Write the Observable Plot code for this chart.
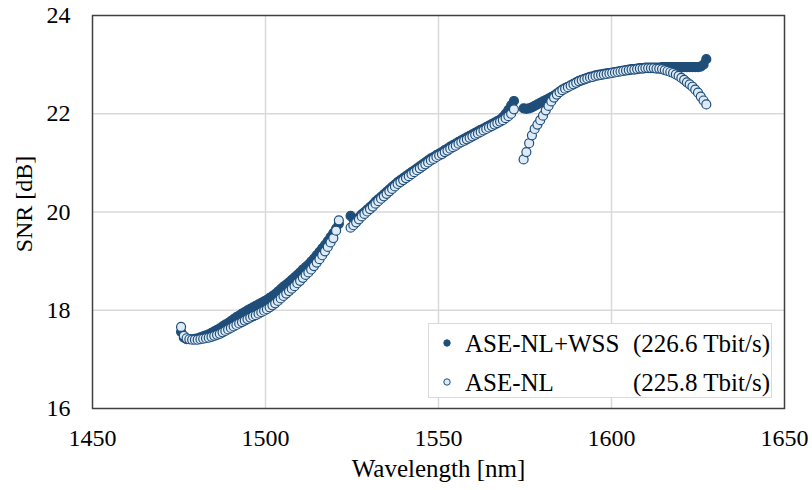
<!DOCTYPE html>
<html><head><meta charset="utf-8">
<script src="https://cdn.jsdelivr.net/npm/d3@7"></script>
<script src="https://cdn.jsdelivr.net/npm/@observablehq/plot@0.6"></script>
<style>
body{margin:0;background:#fff;}
#wrap{position:relative;width:812px;height:490px;font-family:"Liberation Serif","Times New Roman",serif;color:#000;}
#legend{position:absolute;left:428px;top:323px;width:344px;height:75px;border:1.5px solid #d9d9d9;background:#fff;box-sizing:border-box;}
.lt{position:absolute;font-size:25px;line-height:25px;white-space:nowrap;}
</style></head><body><div id="wrap"></div>
<script>
// ---- data ----
const sWavelength = [1475.6,1476.4,1477.2,1478.0,1478.8,1479.6,1480.4,1481.2,1482.0,1482.8,
1483.6,1484.4,1485.2,1486.0,1486.8,1487.6,1488.4,1489.2,1490.0,1490.8,
1491.6,1492.4,1493.2,1494.0,1494.8,1495.6,1496.4,1497.2,1498.0,1498.8,
1499.6,1500.4,1501.2,1502.0,1502.8,1503.6,1504.4,1505.2,1506.0,1506.8,
1507.6,1508.4,1509.2,1510.0,1510.8,1511.6,1512.4,1513.2,1514.0,1514.8,
1515.6,1516.4,1517.2,1518.0,1518.8,1519.6,1520.4,1521.2];
const sAseNl = [17.66,17.48,17.43,17.41,17.40,17.40,17.40,17.41,17.42,17.43,
17.44,17.46,17.48,17.50,17.52,17.55,17.58,17.61,17.64,17.67,
17.70,17.73,17.76,17.79,17.82,17.85,17.88,17.90,17.93,17.96,
17.99,18.02,18.06,18.10,18.14,18.19,18.24,18.29,18.34,18.39,
18.44,18.49,18.55,18.60,18.66,18.72,18.77,18.83,18.90,18.97,
19.04,19.12,19.20,19.29,19.38,19.47,19.62,19.83];
const sAseNlWss = [17.56,17.44,17.41,17.41,17.41,17.42,17.43,17.45,17.47,17.49,
17.51,17.54,17.57,17.60,17.63,17.67,17.71,17.74,17.78,17.82,
17.86,17.89,17.93,17.96,18.00,18.03,18.06,18.09,18.12,18.15,
18.18,18.21,18.25,18.29,18.33,18.38,18.43,18.48,18.52,18.57,
18.62,18.67,18.72,18.77,18.83,18.88,18.93,18.99,19.05,19.12,
19.19,19.26,19.33,19.41,19.49,19.57,19.66,19.76];

const cWavelength = [1524.6,1525.4,1526.2,1527.0,1527.8,1528.6,1529.4,1530.2,1531.0,1531.8,
1532.6,1533.4,1534.2,1535.0,1535.8,1536.6,1537.4,1538.2,1539.0,1539.8,
1540.6,1541.4,1542.2,1543.0,1543.8,1544.6,1545.4,1546.2,1547.0,1547.8,
1548.6,1549.4,1550.2,1551.0,1551.8,1552.6,1553.4,1554.2,1555.0,1555.8,
1556.6,1557.4,1558.2,1559.0,1559.8,1560.6,1561.4,1562.2,1563.0,1563.8,
1564.6,1565.4,1566.2,1567.0,1567.8,1568.6,1569.4,1570.2,1571.0,1571.8];
const cAseNl = [19.68,19.73,19.79,19.85,19.91,19.96,20.01,20.06,20.11,20.17,
20.22,20.27,20.32,20.37,20.42,20.47,20.52,20.57,20.61,20.65,
20.69,20.73,20.77,20.81,20.85,20.89,20.93,20.97,21.01,21.05,
21.08,21.12,21.15,21.18,21.22,21.25,21.29,21.32,21.35,21.39,
21.42,21.45,21.48,21.51,21.54,21.57,21.60,21.63,21.66,21.69,
21.72,21.75,21.78,21.81,21.84,21.87,21.91,21.95,22.00,22.09];
const cAseNlWss = [19.92,19.86,19.85,19.89,19.95,20.00,20.05,20.10,20.15,20.21,
20.26,20.31,20.36,20.41,20.46,20.51,20.56,20.61,20.65,20.69,
20.73,20.77,20.81,20.85,20.89,20.93,20.97,21.01,21.05,21.09,
21.12,21.16,21.19,21.22,21.26,21.29,21.33,21.36,21.39,21.43,
21.46,21.49,21.52,21.55,21.58,21.61,21.64,21.67,21.70,21.73,
21.76,21.79,21.82,21.85,21.88,21.93,22.00,22.08,22.17,22.26];

const lWavelength = [1574.6,1575.4,1576.2,1577.0,1577.8,1578.6,1579.4,1580.2,1581.0,1581.8,
1582.6,1583.4,1584.2,1585.0,1585.8,1586.6,1587.4,1588.2,1589.0,1589.8,
1590.6,1591.4,1592.2,1593.0,1593.8,1594.6,1595.4,1596.2,1597.0,1597.8,
1598.6,1599.4,1600.2,1601.0,1601.8,1602.6,1603.4,1604.2,1605.0,1605.8,
1606.6,1607.4,1608.2,1609.0,1609.8,1610.6,1611.4,1612.2,1613.0,1613.8,
1614.6,1615.4,1616.2,1617.0,1617.8,1618.6,1619.4,1620.2,1621.0,1621.8,
1622.6,1623.4,1624.2,1625.0,1625.8,1626.6,1627.4];
const lAseNl = [21.07,21.22,21.40,21.56,21.69,21.78,21.87,21.96,22.07,22.16,
22.25,22.33,22.39,22.44,22.48,22.51,22.54,22.57,22.60,22.63,
22.66,22.68,22.70,22.72,22.74,22.75,22.77,22.78,22.79,22.80,
22.81,22.82,22.83,22.84,22.85,22.86,22.87,22.88,22.89,22.90,
22.90,22.91,22.92,22.92,22.93,22.93,22.93,22.93,22.92,22.92,
22.91,22.89,22.87,22.85,22.83,22.80,22.77,22.73,22.69,22.64,
22.60,22.55,22.49,22.43,22.35,22.27,22.19];
const lAseNlWss = [22.11,22.10,22.11,22.13,22.16,22.19,22.22,22.25,22.28,22.31,
22.34,22.37,22.41,22.45,22.49,22.52,22.55,22.58,22.61,22.64,
22.67,22.69,22.71,22.73,22.75,22.76,22.78,22.79,22.80,22.81,
22.82,22.83,22.84,22.85,22.86,22.87,22.88,22.89,22.90,22.91,
22.91,22.92,22.93,22.93,22.94,22.94,22.94,22.94,22.94,22.94,
22.95,22.95,22.95,22.95,22.95,22.95,22.95,22.95,22.95,22.95,
22.95,22.95,22.95,22.95,22.96,23.00,23.11];

const xTicks = [1450, 1500, 1550, 1600, 1650];
const yTicks = [16, 18, 20, 22, 24];
const xGridTicks = [1500, 1550, 1600];
const yGridTicks = [18, 20, 22];
const seriesNames = ["ASE-NL+WSS", "ASE-NL"];
const seriesRates = ["(226.6 Tbit/s)", "(225.8 Tbit/s)"];
const xLabel = "Wavelength [nm]";
const yLabel = "SNR [dB]";

// ---- build tables ----
function rows(w, v) { return w.map((x, i) => ({wavelength: x, snr: v[i]})); }
const wssData = [...rows(sWavelength, sAseNlWss), ...rows(cWavelength, cAseNlWss), ...rows(lWavelength, lAseNlWss)];
const nlData = [...rows(sWavelength, sAseNl), ...rows(cWavelength, cAseNl), ...rows(lWavelength, lAseNl)];

const dark = "#1f4e79", light = "#deebf7";
const font = "'Liberation Serif','Times New Roman',serif";

const chart = Plot.plot({
  width: 812, height: 490,
  marginLeft: 92, marginRight: 28, marginTop: 15, marginBottom: 82,
  style: {fontFamily: font, fontSize: "24px", color: "#000", background: "#fff", overflow: "visible"},
  x: {domain: [1450, 1650]},
  y: {domain: [16, 24]},
  marks: [
    Plot.gridX(xGridTicks, {stroke: "#d9d9d9", strokeOpacity: 1, strokeWidth: 1.5}),
    Plot.gridY(yGridTicks, {stroke: "#d9d9d9", strokeOpacity: 1, strokeWidth: 1.5}),
    Plot.frame({stroke: "#404040", strokeWidth: 1.5}),
    Plot.axisX(xTicks, {tickSize: 0, tickPadding: 20, label: null, fontSize: 24, fill: "#000", tickFormat: d => String(d)}),
    Plot.axisY(yTicks, {tickSize: 0, tickPadding: 22, label: null, fontSize: 24, fill: "#000", tickFormat: d => String(d)}),
    Plot.dot(wssData, {x: "wavelength", y: "snr", r: 4.5, fill: dark, stroke: dark, strokeWidth: 1.2}),
    Plot.dot(nlData, {x: "wavelength", y: "snr", r: 4.5, fill: light, stroke: dark, strokeWidth: 1.2}),
    Plot.text([xLabel], {frameAnchor: "bottom", dy: 68, fontSize: 25, fill: "#000"}),
    Plot.text([yLabel], {frameAnchor: "left", textAnchor: "middle", lineAnchor: "middle", dx: -68, dy: -8, rotate: -90, fontSize: 24, fill: "#000"})
  ]
});

const wrap = document.getElementById("wrap");
wrap.appendChild(chart);

// legend (inside plot area, bottom right)
const lg = document.createElement("div");
lg.id = "legend";
wrap.appendChild(lg);
const rowCenters = [343, 382];
seriesNames.forEach((name, i) => {
  const cy = rowCenters[i];
  const m = document.createElementNS("http://www.w3.org/2000/svg", "svg");
  m.setAttribute("width", 10); m.setAttribute("height", 10);
  m.style.position = "absolute"; m.style.left = (447 - 5) + "px"; m.style.top = (cy - 5) + "px";
  m.innerHTML = `<circle cx="5" cy="5" r="3.2" fill="${i === 0 ? dark : light}" stroke="${dark}" stroke-width="1"/>`;
  wrap.appendChild(m);
  const t = document.createElement("div");
  t.className = "lt"; t.textContent = name;
  t.style.left = "465px"; t.style.top = (cy - 12.5) + "px";
  wrap.appendChild(t);
  const r = document.createElement("div");
  r.className = "lt"; r.textContent = seriesRates[i];
  r.style.right = (812 - 770) + "px"; r.style.top = (cy - 12.5) + "px";
  wrap.appendChild(r);
});
</script></body></html>
